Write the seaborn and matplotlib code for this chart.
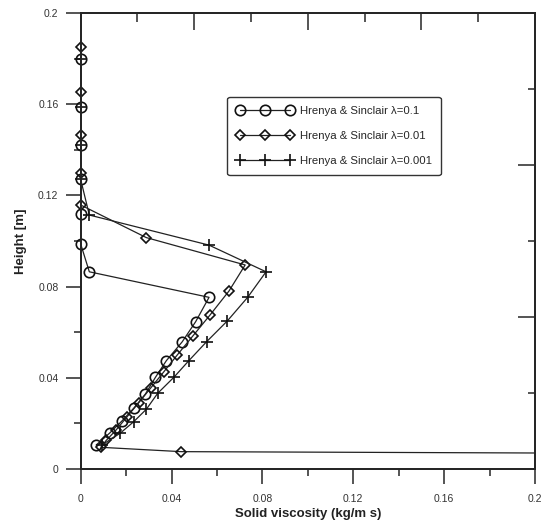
import numpy as np
import pandas as pd
import matplotlib
matplotlib.use("Agg")
import matplotlib.pyplot as plt
from matplotlib.ticker import MultipleLocator, FixedLocator, FuncFormatter
from matplotlib.patches import Rectangle
import seaborn as sns

# ---- data ----
labels = ["Hrenya & Sinclair λ=0.1", "Hrenya & Sinclair λ=0.01", "Hrenya & Sinclair λ=0.001"]

h_circ = [0.0105, 0.0157, 0.021, 0.0266, 0.0329, 0.0402, 0.0475, 0.0558, 0.0646, 0.0753,
          0.0865, 0.0987, 0.1118, 0.127, 0.142, 0.159, 0.18]
v_circ = [0.0068, 0.0127, 0.0181, 0.0233, 0.0285, 0.0329, 0.0377, 0.0447, 0.0506, 0.0565,
          0.0038, 0.0, 0.0, 0.0, 0.0, 0.0, 0.0]

h_diam = [0.0055, 0.0076, 0.0095, 0.0125, 0.017, 0.023, 0.029, 0.0355, 0.0425, 0.050, 0.0585,
          0.0675, 0.0781, 0.0895, 0.1015, 0.1158, 0.130, 0.1465, 0.1655, 0.1853]
v_diam = [0.60, 0.0442, 0.0090, 0.0112, 0.0155, 0.0205, 0.0255, 0.0308, 0.0365, 0.0425, 0.0495,
          0.0569, 0.0653, 0.0724, 0.0289, 0.0, 0.0, 0.0, 0.0, 0.0]

h_cross = [0.0105, 0.0157, 0.0207, 0.0262, 0.0332, 0.0402, 0.0475, 0.0558, 0.0650, 0.0753,
           0.0865, 0.0982, 0.1114, 0.127, 0.142, 0.159, 0.18]
v_cross = [0.0093, 0.0174, 0.0233, 0.0289, 0.0339, 0.041, 0.0476, 0.0554, 0.0646, 0.0735,
           0.0816, 0.0565, 0.0038, 0.0, 0.0, 0.0, 0.0]

xticks = [0, 0.04, 0.08, 0.12, 0.16, 0.2]
yticks = [0, 0.04, 0.08, 0.12, 0.16, 0.2]

sns.set_style("ticks")
plt.rcParams['font.family'] = ['Liberation Sans', 'DejaVu Sans']

fig = plt.figure(figsize=(5.43, 5.23), dpi=100)
ax = fig.add_axes([0.1486, 0.1033, 0.8367, 0.8717])

series = [
    (v_circ, h_circ, 'o', 7.5, labels[0]),
    (v_diam, h_diam, 'D', 5.0, labels[1]),
    (v_cross, h_cross, '+', 8, labels[2]),
]
for v, h, m, ms, lab in series:
    df = pd.DataFrame({"v": v, "h": h})
    sns.lineplot(data=df, x="v", y="h", sort=False, estimator=None, ax=ax,
                 color="#222222", lw=0.9, marker=m, markersize=ms,
                 markerfacecolor="none", markeredgecolor="#111111",
                 markeredgewidth=1.2, label=lab)

clip = Rectangle((-0.06, -0.02), 1.06, 1.04, transform=ax.transAxes, fill=False)
for ln in ax.lines:
    ln.set_clip_path(clip)

ax.set_xlim(0, 0.2)
ax.set_ylim(0, 0.2)

fmt = FuncFormatter(lambda val, pos: "0" if abs(val) < 1e-9 else ("%g" % round(val, 3)))
ax.xaxis.set_major_locator(FixedLocator(xticks))
ax.yaxis.set_major_locator(FixedLocator(yticks))
ax.xaxis.set_minor_locator(MultipleLocator(0.02))
ax.yaxis.set_minor_locator(MultipleLocator(0.02))
ax.xaxis.set_major_formatter(fmt)
ax.yaxis.set_major_formatter(fmt)
ax.tick_params(which='major', direction='out', length=11, width=1.1, labelsize=7.5,
               labelcolor="#333333")
ax.tick_params(which='minor', direction='out', length=5, width=1.1)
ax.tick_params(axis='x', which='major', pad=7)
ax.tick_params(axis='y', which='major', pad=5)
for s in ax.spines.values():
    s.set_linewidth(1.1)
    s.set_color("black")

# top / right frame ticks (inward)
axt = ax.twiny()
axt.set_xlim(0, 0.2)
axt.xaxis.set_major_locator(MultipleLocator(0.05))
axt.xaxis.set_minor_locator(MultipleLocator(0.025))
axt.tick_params(which='major', direction='in', length=12, width=1.1, labeltop=False)
axt.tick_params(which='minor', direction='in', length=6.5, width=1.1)
axr = ax.twinx()
axr.set_ylim(0, 0.2)
axr.yaxis.set_major_locator(MultipleLocator(0.2 / 3))
axr.yaxis.set_minor_locator(MultipleLocator(0.2 / 6))
axr.tick_params(which='major', direction='in', length=12, width=1.1, labelright=False)
axr.tick_params(which='minor', direction='in', length=5, width=1.1)
for a in (axt, axr):
    for s in a.spines.values():
        s.set_linewidth(1.1)

ax.set_xlabel("Solid viscosity (kg/m s)", fontsize=9.5, fontweight='bold', color="#222222", labelpad=3)
ax.set_ylabel("Height [m]", fontsize=9.5, fontweight='bold', color="#222222", labelpad=8)

leg = ax.legend(loc='upper left', bbox_to_anchor=(0.31, 0.828), numpoints=3,
                fontsize=8.2, frameon=True, fancybox=True, handlelength=5.0,
                borderpad=0.8, labelspacing=1.3, handletextpad=0.55)
leg.get_frame().set_edgecolor("#333333")
leg.get_frame().set_linewidth(1.0)
leg.get_frame().set_alpha(1)

fig.savefig("out.png", dpi=100)
